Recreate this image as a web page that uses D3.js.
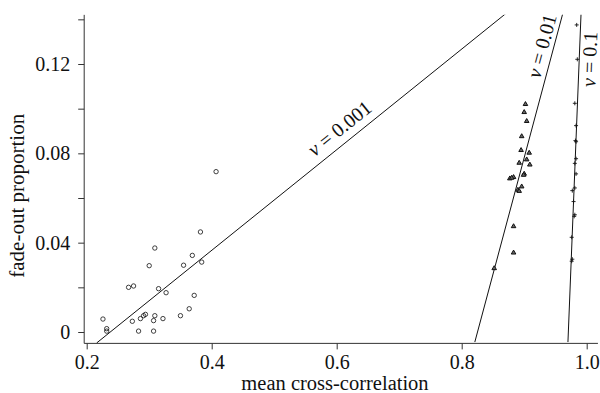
<!DOCTYPE html>
<html>
<head>
<meta charset="utf-8">
<script src="https://cdn.jsdelivr.net/npm/d3@7"></script>
<style>
	body { margin: 0; background: #fff; }
	svg text { font-family: "Liberation Serif", "Times New Roman", Times, "DejaVu Serif", serif; fill: #111; }
</style>
</head>
<body>
<div id="chart"></div>
<script>

// data: mean cross-correlation, fade-out proportion
var circleCorr = [0.407, 0.382, 0.309, 0.369, 0.355, 0.384, 0.300, 0.267, 0.275, 0.315, 0.327, 0.372, 0.364,
	0.226, 0.232, 0.232, 0.273, 0.286, 0.291, 0.294, 0.309, 0.307, 0.322, 0.350, 0.283, 0.307];
var circleFade = [0.0718, 0.0448, 0.0376, 0.0343, 0.0299, 0.0313, 0.0297, 0.0200, 0.0206, 0.0194, 0.0176, 0.0164, 0.0104,
	0.0058, 0.0015, 0.0004, 0.0048, 0.0060, 0.0073, 0.0079, 0.0073, 0.0051, 0.0060, 0.0073, 0.0004, 0.0004];

var triangleCorr = [0.902, 0.900, 0.904, 0.896, 0.895, 0.908, 0.904, 0.892, 0.909, 0.900, 0.899, 0.883, 0.877, 0.880,
	0.896, 0.890, 0.892, 0.883, 0.883, 0.852];
var triangleFade = [0.1020, 0.0984, 0.0944, 0.0876, 0.0814, 0.0802, 0.0772, 0.0757, 0.0749, 0.0708, 0.0703, 0.0693, 0.0687, 0.0690,
	0.0651, 0.0636, 0.0631, 0.0473, 0.0355, 0.0285];

var plusCorr = [0.984, 0.985, 0.981, 0.983, 0.982, 0.983, 0.983, 0.981, 0.983, 0.981, 0.977, 0.979, 0.981, 0.980,
	0.976, 0.977, 0.976];
var plusFade = [0.1375, 0.1221, 0.1024, 0.0924, 0.0857, 0.0852, 0.0776, 0.0755, 0.0708, 0.0645, 0.0633, 0.0584, 0.0525, 0.0518,
	0.0424, 0.0326, 0.0317];

// fitted lines, two end points each (corr, fade)
var lineNames = ["0.001", "0.01", "0.1"];
var lineCorr = [[0.216, 0.872], [0.821, 0.962], [0.970, 0.991]];
var lineFade = [[-0.0049, 0.1429], [-0.0045, 0.1429], [-0.0045, 0.1429]];

// axis ticks
var xTicks = [0.2, 0.4, 0.6, 0.8, 1.0];
var xTickLabels = ["0.2", "0.4", "0.6", "0.8", "1.0"];
var yTicks = [0, 0.02, 0.04, 0.06, 0.08, 0.10, 0.12, 0.14];
var yTickLabels = ["0", "", "0.04", "", "0.08", "", "0.12", ""];

var serif = "'Liberation Serif', 'Times New Roman', Times, 'DejaVu Serif', serif";

var width = 600,
	height = 393;

var svg = d3.select("#chart")
	.append("svg")
	.attr("width", width)
	.attr("height", height)
	.style("font-family", serif);

// scales
var x = d3.scaleLinear().domain([0.2, 1.0]).range([86.7, 586.7]);
var y = d3.scaleLinear().domain([0, 0.12]).range([332, 64]);

// axis extent in data units
var xMin = 0.196, xMax = 1.018,
	yMin = -0.0051, yMax = 0.142;

svg.append("clipPath")
	.attr("id", "plotclip")
	.append("rect")
	.attr("x", x(xMin))
	.attr("y", y(yMax))
	.attr("width", x(xMax) - x(xMin))
	.attr("height", y(yMin) - y(yMax));

// x axis
var xAxis = svg.append("g")
	.attr("transform", "translate(0," + y(yMin) + ")")
	.call(d3.axisBottom(x)
		.tickValues(xTicks)
		.tickFormat(function(d, i){

			return xTickLabels[i];
		})
		.tickSize(6)
		.tickSizeOuter(0)
		.tickPadding(5));

xAxis.select(".domain").remove();
xAxis.append("line")
	.attr("x1", x(xMin))
	.attr("x2", x(xMax))
	.attr("stroke", "#333");

// y axis
var yAxis = svg.append("g")
	.attr("transform", "translate(" + x(xMin) + ",0)")
	.call(d3.axisLeft(y)
		.tickValues(yTicks)
		.tickFormat(function(d, i){

			return yTickLabels[i];
		})
		.tickSize(6)
		.tickSizeOuter(0)
		.tickPadding(8));

yAxis.select(".domain").remove();
yAxis.append("line")
	.attr("y1", y(yMax))
	.attr("y2", y(yMin))
	.attr("stroke", "#333");

svg.selectAll(".tick line").attr("stroke", "#333");
svg.selectAll("g").attr("font-family", null);
svg.selectAll(".tick text")
	.attr("font-size", 20)
	.style("font-family", serif)
	.attr("fill", "#111");

// axis titles
svg.append("text")
	.attr("x", 335)
	.attr("y", 390)
	.attr("text-anchor", "middle")
	.attr("font-size", 20.5)
	.style("font-family", serif)
	.text("mean cross-correlation");

svg.append("text")
	.attr("transform", "translate(24," + y(0.061) + ") rotate(-90)")
	.attr("text-anchor", "middle")
	.attr("font-size", 21)
	.style("font-family", serif)
	.text("fade-out proportion");

// fitted lines
var plot = svg.append("g").attr("clip-path", "url(#plotclip)");

lineNames.forEach(function(name, i){

	plot.append("line")
		.attr("x1", x(lineCorr[i][0]))
		.attr("y1", y(lineFade[i][0]))
		.attr("x2", x(lineCorr[i][1]))
		.attr("y2", y(lineFade[i][1]))
		.attr("stroke", "#111")
		.attr("stroke-width", 1);
});

// line labels: position along the line (0..1) and offset from it
var labelAt = [0.615, 0.89, 0.86],
	labelDy = [-8, -5, 17];

lineNames.forEach(function(name, i){

	var t = labelAt[i],
		px = x(lineCorr[i][0]) + t * (x(lineCorr[i][1]) - x(lineCorr[i][0])),
		py = y(lineFade[i][0]) + t * (y(lineFade[i][1]) - y(lineFade[i][0])),
		angle = Math.atan2(y(lineFade[i][1]) - y(lineFade[i][0]), x(lineCorr[i][1]) - x(lineCorr[i][0])) * 180 / Math.PI;

	var label = svg.append("text")
		.attr("transform", "translate(" + px + "," + py + ") rotate(" + angle + ")")
		.attr("text-anchor", "middle")
		.attr("dy", labelDy[i])
		.attr("font-size", 20)
		.style("font-family", serif);

	label.append("tspan")
		.attr("font-style", "italic")
		.text("\u03bd");

	label.append("tspan")
		.text(" = " + name);
});

// circles
plot.selectAll(".circ")
	.data(circleCorr)
	.enter()
	.append("circle")
	.attr("class", "circ")
	.attr("cx", function(d){

		return x(d);
	})
	.attr("cy", function(d, i){

		return y(circleFade[i]);
	})
	.attr("r", 2.2)
	.attr("fill", "none")
	.attr("stroke", "#111")
	.attr("stroke-width", 0.8);

// triangles
var triangle = d3.symbol().type(d3.symbolTriangle).size(9);

plot.selectAll(".tri")
	.data(triangleCorr)
	.enter()
	.append("path")
	.attr("class", "tri")
	.attr("d", triangle)
	.attr("transform", function(d, i){

		return "translate(" + x(d) + "," + y(triangleFade[i]) + ")";
	})
	.attr("fill", "#666")
	.attr("stroke", "#111")
	.attr("stroke-width", 1);

// plus signs
plot.selectAll(".plus")
	.data(plusCorr)
	.enter()
	.append("path")
	.attr("class", "plus")
	.attr("d", "M-2,0H2M0,-2V2")
	.attr("transform", function(d, i){

		return "translate(" + x(d) + "," + y(plusFade[i]) + ")";
	})
	.attr("stroke", "#111")
	.attr("stroke-width", 0.9);

</script>
</body>
</html>
